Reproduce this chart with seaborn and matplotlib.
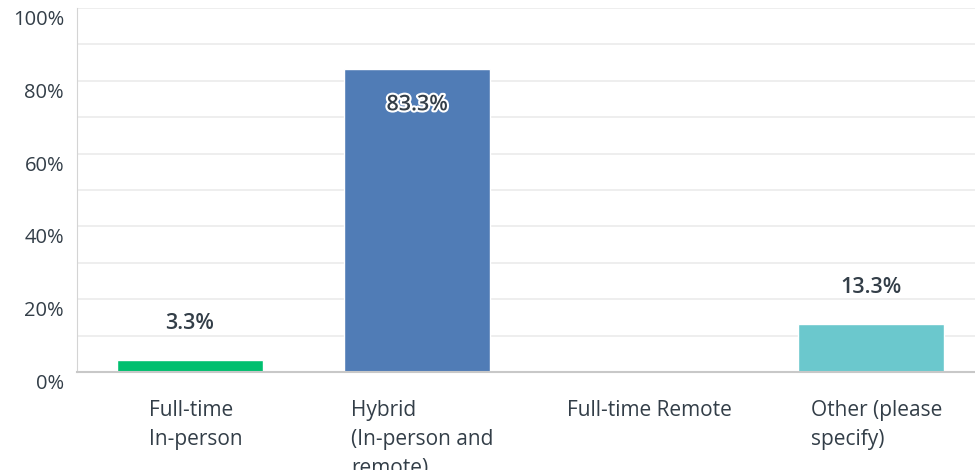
import numpy as np
import pandas as pd
import seaborn as sns
import matplotlib.pyplot as plt
import matplotlib.patheffects as pe
from matplotlib.transforms import offset_copy

# data
categories = ["Full-time\nIn-person", "Hybrid\n(In-person and\nremote)",
              "Full-time Remote", "Other (please\nspecify)"]
values = [3.3, 83.3, 0.0, 13.3]
colors = ["#00BF6F", "#507CB6", "#F9BE00", "#6BC8CD"]
yticks = [0, 20, 40, 60, 80, 100]

text_color = "#333E48"

sns.set_style("white")
plt.rcParams["font.family"] = ["Open Sans", "DejaVu Sans"]

df = pd.DataFrame({"answer": categories, "pct": values})

fig = plt.figure(figsize=(9.75, 4.7), dpi=100)
ax = fig.add_axes([76.5 / 975, 1 - 372 / 470, 908 / 975, 364 / 470])

sns.barplot(data=df, x="answer", y="pct", hue="answer", palette=colors,
            order=categories, hue_order=categories, width=0.645,
            legend=False, ax=ax, saturation=1, zorder=3)

ax.set_ylim(0, 100)
ax.set_xlim(-0.5, 3.5)

# grid every 10%
for g in range(10, 101, 10):
    ax.axhline(g, color="#EBEBEB", lw=1.2, zorder=0)

ax.set_yticks(yticks)
ax.set_yticklabels([f"{t}%" for t in yticks])
ax.tick_params(axis="y", length=0, pad=9, labelsize=14.5, labelcolor=text_color)
for lab in ax.get_yticklabels():
    lab.set_verticalalignment("top")
    lab.set_transform(offset_copy(lab.get_transform(), fig=fig, y=-1.5, units="points"))

ax.set_xticks(range(len(categories)))
ax.set_xticklabels(categories)
ax.tick_params(axis="x", length=0, pad=20, labelsize=15, labelcolor=text_color)
for lab in ax.get_xticklabels():
    lab.set_multialignment("left")
    lab.set_linespacing(1.52)
    lab.set_transform(offset_copy(lab.get_transform(), fig=fig, x=4, units="points"))

ax.set_xlabel("")
ax.set_ylabel("")

for side in ["top", "right"]:
    ax.spines[side].set_visible(False)
ax.spines["left"].set_color("#D4D4D4")
ax.spines["bottom"].set_color("#C8C8C8")
ax.spines["bottom"].set_linewidth(1.5)
ax.spines["bottom"].set_zorder(4)

# value labels
for i, v in enumerate(values):
    if v == 0:
        continue
    if v > 50:
        ax.annotate(f"{v}%", (i, v), xytext=(0, -36), textcoords="offset pixels",
                    ha="center", va="center", fontsize=15.5, fontweight="semibold",
                    color=text_color, zorder=5,
                    path_effects=[pe.withStroke(linewidth=3, foreground="white")])
    else:
        ax.annotate(f"{v}%", (i, v), xytext=(0, 36), textcoords="offset pixels",
                    ha="center", va="center", fontsize=15.5, fontweight="semibold",
                    color=text_color, zorder=5)

fig.savefig("out.png", dpi=100)
